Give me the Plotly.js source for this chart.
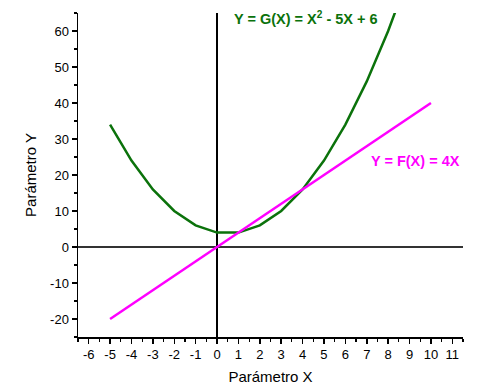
<!DOCTYPE html>
<html>
<head>
<meta charset="utf-8">
<script src="https://cdn.plot.ly/plotly-3.0.1.min.js"></script>
<style>html,body{margin:0;padding:0;background:#fff}#chart{width:482px;height:391px}</style>
</head>
<body>
<div id="chart"></div>
<script>
var xF = [-5, 10];
var yF = [-20, 40];
var xG = [-5, -4, -3, -2, -1, 0, 1, 2, 3, 4, 5, 6, 7, 8, 9];
var yG = [34, 24, 16, 10, 6, 4, 4, 6, 10, 16, 24, 34, 46, 60, 76];
var xTickVals = [-6, -5, -4, -3, -2, -1, 0, 1, 2, 3, 4, 5, 6, 7, 8, 9, 10, 11];
var xTickText = ['-6', '-5', '-4', '-3', '-2', '-1', '0', '1', '2', '3', '4', '5', '6', '7', '8', '9', '10', '11'];
var yTickVals = [-20, -10, 0, 10, 20, 30, 40, 50, 60];
var yTickText = ['-20', '-10', '0', '10', '20', '30', '40', '50', '60'];
var labelG = 'Y = G(X) = X<sup>2</sup> - 5X + 6';
var labelF = 'Y = F(X) = 4X';
var xTitle = 'Parámetro X';
var yTitle = 'Parámetro Y';

var font = 'Liberation Sans, Arial, sans-serif';
var traces = [
  {x: xG, y: yG, mode: 'lines', line: {color: '#0b720b', width: 2.5}, hoverinfo: 'skip'},
  {x: xF, y: yF, mode: 'lines', line: {color: '#ff00ff', width: 2.5}, hoverinfo: 'skip'}
];
var layout = {
  width: 482, height: 391,
  margin: {l: 78, r: 19, t: 13, b: 54},
  paper_bgcolor: '#fff', plot_bgcolor: '#fff',
  showlegend: false,
  font: {family: font, color: '#000', size: 13},
  xaxis: {
    range: [-6.5, 11.5], tickmode: 'array', tickvals: xTickVals, ticktext: xTickText,
    showgrid: false, zeroline: true, zerolinecolor: '#000', zerolinewidth: 1.5,
    showline: true, linecolor: '#000', linewidth: 1.5,
    ticks: 'outside', ticklen: 5, tickwidth: 1.5, tickcolor: '#000',
    minor: {dtick: 0.5, tick0: 0, ticks: 'outside', ticklen: 3, tickwidth: 1.2, tickcolor: '#000'},
    tickfont: {size: 13, family: font},
    title: {text: xTitle, font: {size: 15, family: font}, standoff: 10}
  },
  yaxis: {
    range: [-25, 65], tickmode: 'array', tickvals: yTickVals, ticktext: yTickText,
    showgrid: false, zeroline: true, zerolinecolor: '#333', zerolinewidth: 1.5,
    showline: true, linecolor: '#000', linewidth: 1.5,
    ticks: 'outside', ticklen: 5, tickwidth: 1.5, tickcolor: '#000',
    minor: {dtick: 5, tick0: 0, ticks: 'outside', ticklen: 3, tickwidth: 1.2, tickcolor: '#000'},
    tickfont: {size: 13, family: font},
    title: {text: yTitle, font: {size: 15, family: font}, standoff: 10}
  },
  annotations: [
    {x: 0.7, y: 63.5, xref: 'x', yref: 'y', xanchor: 'left', yanchor: 'middle', text: '<b>' + labelG + '</b>', showarrow: false, font: {size: 14.5, color: '#0b720b', family: font}},
    {x: 7.1, y: 24, xref: 'x', yref: 'y', xanchor: 'left', yanchor: 'middle', text: '<b>' + labelF + '</b>', showarrow: false, font: {size: 14.5, color: '#ff00ff', family: font}}
  ]
};
Plotly.newPlot('chart', traces, layout, {displayModeBar: false, staticPlot: true});
</script>
</body>
</html>
